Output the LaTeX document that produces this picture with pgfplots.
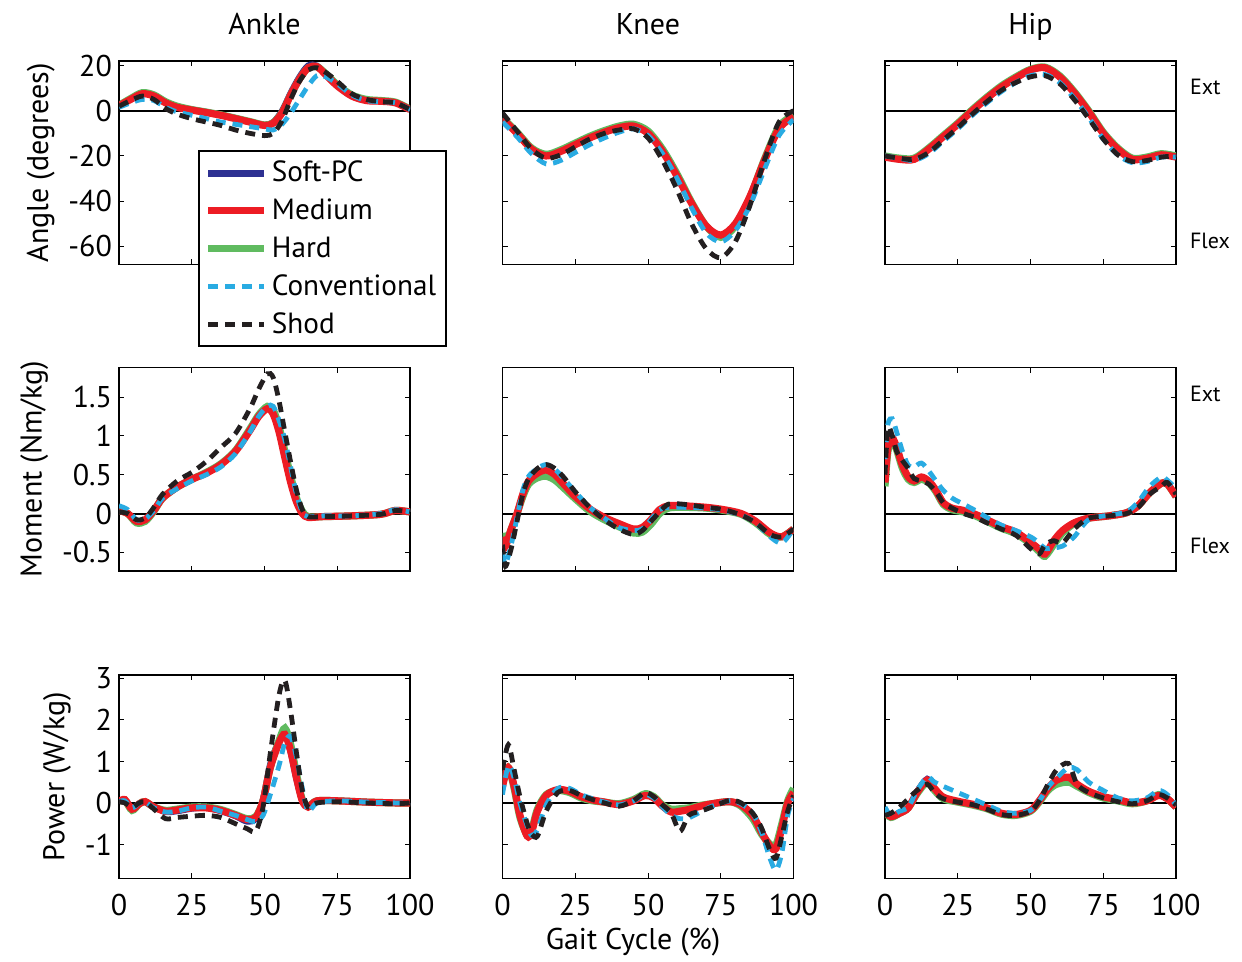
\documentclass[border=0pt]{standalone}
\usepackage{pgfplots}
\pgfplotsset{compat=1.18}
\usepackage{pgfplotstable}
\usepackage{fontspec}
\setmainfont{PT Sans}

\definecolor{softc}{RGB}{46,49,146}
\definecolor{medc}{RGB}{237,28,36}
\definecolor{hardc}{RGB}{96,187,96}
\definecolor{convc}{RGB}{41,171,226}
\definecolor{shodc}{RGB}{35,31,32}

% columns: x, Soft-PC, Medium, Hard, Conventional, Shod
\pgfplotstableread{
x s m h c k
0 2.0 2.2 2.4 1.5 2
4 5.2 5 5.4 3.5 4.5
8 7.7 7.5 8 5 6.5
12 6.5 6.5 7 4.5 5
16 3.8 3.5 4 1.5 1
20 1.8 1.5 2 -0.5 -1.5
25 0.6 0.3 0.5 -2 -3.5
30 -0.5 -0.8 -0.6 -3.5 -5
35 -1.8 -2 -1.8 -5 -6.5
40 -3.2 -3.5 -3.3 -6 -8.5
45 -4.8 -5 -4.8 -7 -10
50 -6.3 -6.5 -6.3 -8 -11
53 -5 -5.5 -5.3 -8.5 -10
56 0 -1 -0.8 -6 -4.5
59 8 7 7 -1 5
62 15 14 14 5 13
65 20 19 19 11 18
68 20 19.5 19.5 15.5 19
71 16 16 16.5 15 17
75 11 11 11.5 12 13
80 6.5 6.5 7 7 7.5
85 4.5 4.5 5 4.5 5
90 4.2 4.2 4.5 4 4
95 3.5 3.5 3.8 3.5 3.5
100 0.5 0.5 0.7 0.5 0.5
}\ankA

\pgfplotstableread{
x s m h c k
0 -3.5 -3.5 -3.2 -5 -1
5 -10 -10 -9.5 -11.5 -9
10 -17 -17 -16.5 -19 -17
15 -20 -20 -19.3 -23.5 -21
20 -18 -18 -17.3 -22 -19.5
25 -15 -15 -14.3 -18.5 -16
30 -12 -12 -11.3 -15 -12.5
35 -9.5 -9.5 -8.8 -12 -10
40 -7.5 -7.5 -6.8 -9.5 -8.5
45 -6.8 -6.8 -6 -8 -8
50 -10 -10 -9 -11 -12
55 -18 -18 -17 -19 -22
60 -29 -29 -28 -30 -35
65 -41 -41 -40.5 -43 -50
70 -51 -51 -51 -54 -61
75 -55 -55 -56 -58 -65
80 -50 -50 -51 -53 -58
85 -38 -38 -38.5 -42 -42
90 -22 -22 -21.5 -26 -22
95 -8 -8 -7 -11 -5
100 -2.5 -2.5 -2 -4 0
}\kneA

\pgfplotstableread{
x s m h c k
0 -20.5 -20.5 -20 -20 -20
5 -21.5 -21.5 -21 -21 -21
10 -21.5 -21.5 -21 -22 -21.5
15 -17 -17 -16.5 -19 -18.5
20 -11.5 -11.5 -11 -13.5 -13
25 -6 -6 -5.5 -8 -7.5
30 0 0 0.5 -2 -1.5
35 5.5 5.5 6 3.5 4
40 10.5 10.5 11 8.5 9
45 14.5 14.5 15 12.5 12.5
50 18 18 18.3 15.5 15
55 19 19 19.3 16 15.5
60 15 15 15.5 12.5 12
65 8 8 8.5 5.5 5
70 -0.5 -0.5 0 -3 -3.5
75 -10 -10 -9.5 -12.5 -12.5
80 -17 -17 -16.5 -19.5 -19.5
85 -21.5 -21.5 -21 -23 -22.5
90 -21 -21 -20.5 -22.5 -22
95 -19.5 -19.5 -19 -20.5 -20.5
100 -20.5 -20.5 -20 -20.5 -20
}\hipA

\pgfplotstableread{
x s m h c k
0 0.04 0.04 0.04 0.1 0.02
3 0.0 0.0 0.0 0.05 0.0
6 -0.1 -0.1 -0.12 -0.08 -0.08
9 -0.09 -0.08 -0.1 -0.07 -0.06
12 0.04 0.04 0.03 0.04 0.08
15 0.2 0.2 0.2 0.2 0.25
20 0.34 0.34 0.34 0.32 0.42
25 0.44 0.44 0.44 0.42 0.53
30 0.52 0.52 0.53 0.5 0.67
35 0.63 0.63 0.64 0.6 0.85
40 0.8 0.8 0.81 0.77 1.03
45 1.07 1.07 1.09 1.05 1.35
48 1.25 1.25 1.27 1.25 1.6
51 1.35 1.35 1.38 1.38 1.8
53 1.28 1.28 1.33 1.38 1.75
55 1.05 1.05 1.12 1.2 1.45
57 0.72 0.72 0.8 0.95 1.05
59 0.4 0.4 0.48 0.6 0.66
61 0.15 0.15 0.2 0.25 0.3
63 0.0 0.0 0.03 0.02 0.05
65 -0.05 -0.05 -0.04 -0.04 -0.04
70 -0.04 -0.04 -0.04 -0.03 -0.04
80 -0.03 -0.03 -0.03 -0.03 -0.03
90 -0.01 -0.01 -0.01 0.0 -0.01
95 0.04 0.04 0.04 0.05 0.04
100 0.02 0.02 0.02 0.02 0.02
}\ankM

\pgfplotstableread{
x s m h c k
0 -0.3 -0.3 -0.25 -0.5 -0.4
1 -0.42 -0.42 -0.38 -0.65 -0.68
3 -0.2 -0.2 -0.2 -0.4 -0.45
5 0.0 0.0 0.0 -0.05 -0.1
7 0.22 0.25 0.22 0.3 0.25
9 0.38 0.42 0.38 0.48 0.45
12 0.46 0.52 0.46 0.58 0.58
15 0.48 0.56 0.48 0.63 0.63
18 0.44 0.5 0.43 0.57 0.58
21 0.34 0.38 0.33 0.45 0.47
25 0.2 0.22 0.19 0.28 0.28
30 0.04 0.06 0.03 0.08 0.08
35 -0.07 -0.05 -0.08 -0.06 -0.08
40 -0.15 -0.13 -0.17 -0.18 -0.2
45 -0.21 -0.2 -0.25 -0.22 -0.27
48 -0.19 -0.18 -0.24 -0.2 -0.22
51 -0.09 -0.08 -0.14 -0.08 -0.1
54 0.04 0.05 0.0 0.05 0.02
57 0.09 0.1 0.07 0.08 0.12
62 0.09 0.1 0.08 0.08 0.12
70 0.07 0.08 0.07 0.07 0.08
76 0.04 0.05 0.04 0.04 0.05
82 -0.01 0.0 -0.01 -0.02 -0.02
87 -0.1 -0.1 -0.12 -0.12 -0.12
92 -0.25 -0.25 -0.27 -0.3 -0.27
96 -0.3 -0.3 -0.3 -0.38 -0.3
100 -0.2 -0.2 -0.2 -0.2 -0.2
}\kneM

\pgfplotstableread{
x s m h c k
0 0.4 0.4 0.35 0.7 0.5
1 0.85 0.85 0.8 1.15 1.1
2.5 0.97 0.97 0.95 1.22 1.0
4 0.85 0.85 0.82 1.05 0.8
6 0.62 0.62 0.58 0.8 0.68
8 0.47 0.47 0.44 0.62 0.58
10 0.42 0.42 0.4 0.6 0.45
12.5 0.47 0.47 0.44 0.65 0.42
15 0.42 0.42 0.4 0.55 0.38
17.5 0.3 0.3 0.28 0.42 0.28
20 0.14 0.14 0.12 0.3 0.14
23 0.07 0.07 0.05 0.2 0.07
27 0.04 0.04 0.02 0.12 0.0
31 -0.01 -0.01 -0.03 0.04 -0.05
35 -0.08 -0.08 -0.1 -0.05 -0.12
40 -0.17 -0.17 -0.19 -0.15 -0.2
45 -0.24 -0.24 -0.26 -0.22 -0.28
50 -0.37 -0.37 -0.39 -0.3 -0.45
53 -0.46 -0.46 -0.49 -0.38 -0.52
55 -0.52 -0.52 -0.55 -0.45 -0.4
58 -0.35 -0.35 -0.4 -0.44 -0.35
61 -0.22 -0.22 -0.25 -0.42 -0.38
65 -0.12 -0.12 -0.13 -0.3 -0.2
70 -0.06 -0.06 -0.06 -0.08 -0.06
77 -0.03 -0.03 -0.03 -0.02 -0.03
83 0.01 0.01 0.01 0.02 0.0
87 0.1 0.1 0.1 0.15 0.08
91 0.27 0.27 0.27 0.35 0.25
95 0.39 0.39 0.39 0.47 0.35
97 0.38 0.38 0.38 0.43 0.4
100 0.22 0.22 0.22 0.32 0.25
}\hipM

\pgfplotstableread{
x s m h c k
0 0.03 0.03 0.03 0.03 0.03
2 0.08 0.08 0.06 0.05 0.0
4.5 -0.15 -0.15 -0.18 -0.12 -0.1
7 -0.02 -0.02 -0.02 0.0 0.0
9 0.03 0.03 0.03 0.02 0.03
12 -0.1 -0.1 -0.1 -0.12 -0.15
16 -0.22 -0.2 -0.18 -0.22 -0.38
20 -0.2 -0.17 -0.15 -0.2 -0.35
25 -0.14 -0.12 -0.1 -0.12 -0.32
30 -0.12 -0.12 -0.1 -0.1 -0.3
35 -0.2 -0.18 -0.16 -0.2 -0.35
40 -0.32 -0.3 -0.28 -0.3 -0.5
44 -0.45 -0.4 -0.38 -0.4 -0.62
47 -0.38 -0.35 -0.33 -0.45 -0.68
49.5 0.1 0.05 0.05 -0.3 -0.1
52 0.95 0.85 0.85 0.2 1.2
55 1.5 1.45 1.5 0.9 2.6
57 1.65 1.65 1.8 1.45 2.95
59 1.2 1.25 1.4 1.6 2.2
61 0.55 0.6 0.7 1.1 1.2
63 0.05 0.05 0.08 0.35 0.3
65 -0.1 -0.1 -0.08 -0.2 -0.1
68 0.05 0.05 0.05 0.0 0.0
75 0.05 0.05 0.05 0.05 0.03
85 0.02 0.02 0.02 0.02 0.0
95 0.0 0.0 0.0 0.0 -0.02
100 0.0 0.0 0.0 0.0 0.0
}\ankP

\pgfplotstableread{
x s m h c k
0 0.4 0.4 0.45 0.2 0.8
2 0.85 0.85 0.85 0.9 1.4
4 0.4 0.4 0.35 0.6 0.8
6 -0.3 -0.3 -0.35 0.0 0.15
8.5 -0.8 -0.8 -0.78 -0.55 -0.5
10 -0.7 -0.7 -0.65 -0.78 -0.75
12 -0.2 -0.2 -0.15 -0.65 -0.8
15 0.18 0.18 0.2 -0.05 -0.2
19 0.32 0.32 0.3 0.35 0.25
23 0.28 0.28 0.25 0.35 0.3
27 0.15 0.15 0.12 0.2 0.18
31 0.07 0.07 0.05 0.1 0.08
35 0.02 0.02 0.02 0.02 0.0
40 -0.04 -0.04 -0.02 -0.05 -0.08
45 0.05 0.05 0.08 0.05 0.05
49 0.18 0.18 0.22 0.2 0.25
52 0.12 0.12 0.15 0.12 0.15
55 -0.08 -0.08 -0.05 -0.1 -0.05
58 -0.22 -0.22 -0.15 -0.3 -0.25
61 -0.2 -0.2 -0.14 -0.38 -0.68
64 -0.16 -0.16 -0.12 -0.36 -0.3
68 -0.08 -0.08 -0.06 -0.22 -0.2
72 -0.02 -0.02 -0.02 -0.08 -0.1
78 0.03 0.03 0.03 0.05 0.06
82 -0.05 -0.05 -0.08 -0.02 0.0
86 -0.3 -0.3 -0.38 -0.25 -0.25
89 -0.7 -0.7 -0.75 -0.7 -0.6
92 -1.05 -1.05 -1.0 -1.35 -1.15
94 -1.1 -1.1 -1.0 -1.62 -1.33
96 -0.6 -0.6 -0.5 -1.2 -0.8
98 0.0 0.0 0.05 -0.3 -0.2
100 0.25 0.25 0.35 0.1 0.18
}\kneP

\pgfplotstableread{
x s m h c k
0 -0.2 -0.2 -0.22 -0.1 -0.3
2 -0.33 -0.33 -0.35 -0.3 -0.25
5 -0.25 -0.25 -0.25 -0.2 -0.1
8 -0.12 -0.12 -0.12 -0.1 0.1
11 0.27 0.25 0.22 0.3 0.3
14.5 0.58 0.55 0.5 0.62 0.45
17 0.35 0.35 0.3 0.5 0.25
20 0.12 0.14 0.1 0.4 0.1
25 0.03 0.04 0.02 0.25 0.02
30 -0.04 -0.03 -0.05 0.1 -0.04
35 -0.12 -0.12 -0.14 -0.05 -0.15
40 -0.25 -0.25 -0.27 -0.2 -0.28
45 -0.28 -0.28 -0.3 -0.25 -0.3
50 -0.18 -0.18 -0.2 -0.18 -0.2
53 0.05 0.05 0.02 0.05 0.05
56 0.33 0.35 0.3 0.38 0.45
59 0.5 0.55 0.45 0.6 0.8
63 0.55 0.62 0.5 0.85 0.95
66 0.42 0.45 0.4 0.8 0.45
70 0.26 0.28 0.25 0.5 0.25
75 0.14 0.15 0.12 0.3 0.12
80 0.07 0.08 0.05 0.12 0.03
85 0.0 0.0 -0.02 0.05 -0.02
90 0.05 0.05 0.05 0.12 0.05
94 0.2 0.18 0.2 0.3 0.2
97 0.12 0.1 0.1 0.2 0.12
100 -0.1 -0.1 -0.1 -0.05 -0.05
}\hipP

\pgfplotsset{
  panel/.style={
    scale only axis, width=145.5pt, height=101.75pt,
    anchor=north west,
    xmin=0, xmax=100, xtick={0,25,50,75,100},
    tick align=inside, major tick length=2.5pt,
    axis line style={line width=0.7pt},
    every tick/.style={black, line width=0.5pt},
    tick label style={font=\fontsize{15}{18}\selectfont},
    xticklabel style={yshift=-4.5pt},
    label style={font=\fontsize{15}{18}\selectfont},
    title style={font=\fontsize{15}{18}\selectfont, at={(0.5,1)}, anchor=base, yshift=7pt},
    /pgf/number format/assume math mode=true,
  },
  r1/.style={ymin=-68, ymax=22, ytick={-60,-40,-20,0,20}, xticklabels={}},
  r2/.style={ymin=-0.74, ymax=1.88, ytick={-0.5,0,0.5,1,1.5}, xticklabels={}},
  r3/.style={ymin=-1.82, ymax=3.08, ytick={-1,0,1,2,3}},
  noy/.style={yticklabels={}},
  soft/.style={color=softc, line width=3pt, smooth},
  med/.style={color=medc, line width=3.6pt, smooth},
  hard/.style={color=hardc, line width=3.6pt, smooth},
  conv/.style={color=convc, line width=2.4pt, dash pattern=on 5pt off 3.5pt, smooth},
  shod/.style={color=shodc, line width=2.4pt, dash pattern=on 5pt off 3.5pt, smooth},
}

\newcommand\curves[1]{%
  \addplot[forget plot, black, line width=1pt] coordinates {(0,0) (100,0)};
  \addplot[forget plot, soft] table[x=x, y=s] {#1};
  \addplot[forget plot, hard] table[x=x, y=h] {#1};
  \addplot[forget plot, med] table[x=x, y=m] {#1};
  \addplot[forget plot, conv] table[x=x, y=c] {#1};
  \addplot[forget plot, shod] table[x=x, y=k] {#1};
}

\begin{document}
\begin{tikzpicture}
\path[use as bounding box] (0,0) rectangle (621pt,-481pt);

% row 1: angle
\begin{axis}[panel, r1, at={(59.5pt,-30.5pt)}, title={Ankle},
  ylabel={Angle (degrees)},
  legend style={at={(0.2715,0.5616)}, anchor=north west, draw=black,
    line width=0.9pt, fill=white, font=\fontsize{14.6}{17}\selectfont,
    row sep=3.1pt, inner xsep=3pt, inner ysep=3pt,
    cells={anchor=west, inner xsep=2.5pt}},
  legend image code/.code={\draw[#1] (0pt,0pt) -- (28pt,0pt);}]
  \curves{\ankA}
  \addlegendimage{soft, line width=3.5pt}
  \addlegendentry{Soft-PC}
  \addlegendimage{med, line width=3.5pt}
  \addlegendentry{Medium}
  \addlegendimage{hard, line width=3.5pt}
  \addlegendentry{Hard}
  \addlegendimage{conv, line width=2.2pt}
  \addlegendentry{Conventional}
  \addlegendimage{shod, line width=2.2pt}
  \addlegendentry{Shod}
\end{axis}
\begin{axis}[panel, r1, noy, at={(251.25pt,-30.5pt)}, title={Knee}]
  \curves{\kneA}
\end{axis}
\begin{axis}[panel, r1, noy, at={(442.5pt,-30.5pt)}, title={Hip}]
  \curves{\hipA}
\end{axis}

% row 2: moment
\begin{axis}[panel, r2, at={(59.5pt,-183.75pt)}, ylabel={Moment (Nm/kg)}]
  \curves{\ankM}
\end{axis}
\begin{axis}[panel, r2, noy, at={(251.25pt,-183.75pt)}]
  \curves{\kneM}
\end{axis}
\begin{axis}[panel, r2, noy, at={(442.5pt,-183.75pt)}]
  \curves{\hipM}
\end{axis}

% row 3: power
\begin{axis}[panel, r3, at={(59.5pt,-337.5pt)}, ylabel={Power (W/kg)}]
  \curves{\ankP}
\end{axis}
\begin{axis}[panel, r3, noy, at={(251.25pt,-337.5pt)}]
  \curves{\kneP}
\end{axis}
\begin{axis}[panel, r3, noy, at={(442.5pt,-337.5pt)}]
  \curves{\hipP}
\end{axis}

\node[font=\fontsize{15}{18}\selectfont] at (316.5pt,-471pt) {Gait Cycle (\%)};
\begin{scope}[every node/.style={anchor=west, font=\fontsize{11}{13}\selectfont}]
  \node at (591.5pt,-43.5pt) {Ext};
  \node at (591.5pt,-120.5pt) {Flex};
  \node at (591.5pt,-197pt) {Ext};
  \node at (591.5pt,-273pt) {Flex};
\end{scope}
\end{tikzpicture}
\end{document}
